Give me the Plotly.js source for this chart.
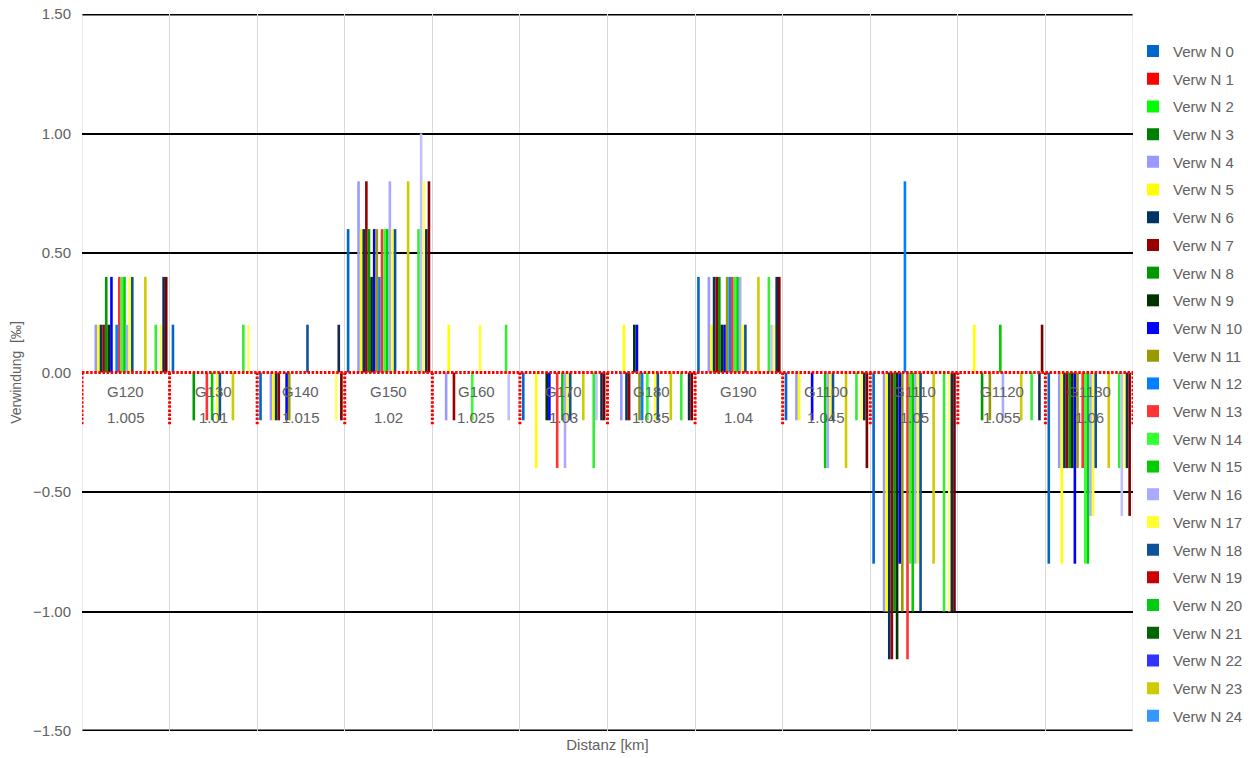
<!DOCTYPE html>
<html><head><meta charset="utf-8">
<script src="https://cdn.plot.ly/plotly-3.0.1.min.js"></script>
<style>html,body{margin:0;padding:0;background:#fff}</style>
</head><body>
<div id="chart" style="width:1260px;height:758px"></div>
<script>
// Categories
const groups = ['G120','G130','G140','G150','G160','G170','G180','G190','G1100','G1110','G1120','G1130'];
const distances = ['1.005','1.01','1.015','1.02','1.025','1.03','1.035','1.04','1.045','1.05','1.055','1.06'];

// Series values (Verwindung in ‰), one value per group
const verwN0  = [0, 0.2, -0.2, 0.6, 0, -0.2, 0, 0.4, -0.2, -0.8, 0, -0.8];
const verwN1  = [0, 0, 0, 0, 0, 0, 0, 0, 0, 0, 0, 0];
const verwN2  = [0, 0, 0, 0, 0, 0, 0, 0, 0, 0, 0, 0];
const verwN3  = [0, 0, 0, 0, 0, 0, 0, 0, 0, 0, 0, 0];
const verwN4  = [0.2, 0, -0.2, 0.8, -0.2, 0, -0.2, 0.4, -0.2, -1.0, 0, -0.4];
const verwN5  = [0.2, 0, -0.2, 0.6, 0.2, -0.4, 0.2, 0.2, -0.2, -1.0, 0.2, -0.8];
const verwN6  = [0.2, 0, -0.2, 0.6, 0, 0, -0.2, 0.4, 0, -1.2, 0, -0.4];
const verwN7  = [0.2, 0, -0.2, 0.8, -0.2, 0, -0.2, 0.4, 0, -1.2, 0, -0.4];
const verwN8  = [0.4, -0.2, 0, 0.6, 0, 0, 0, 0.4, 0, -1.0, -0.2, -0.4];
const verwN9  = [0.2, 0, 0, 0.4, 0, -0.2, 0.2, 0.2, 0, -1.2, 0, -0.4];
const verwN10 = [0.4, 0, -0.2, 0.6, 0, -0.2, 0.2, 0.2, -0.2, -0.8, 0, -0.8];
const verwN11 = [0, 0, -0.2, 0.6, 0, 0, -0.2, 0.4, 0, -1.0, -0.2, -0.4];
const verwN12 = [0.2, 0, 0, 0.4, 0, 0, -0.2, 0.4, 0, 0.8, 0, 0];
const verwN13 = [0.4, -0.2, 0, 0.6, 0, -0.4, 0, 0.4, 0, -1.2, 0, -0.4];
const verwN14 = [0.4, 0, 0, 0.6, -0.2, 0, -0.2, 0.4, 0, -0.8, 0, -0.8];
const verwN15 = [0.4, -0.2, 0, 0.6, 0, -0.2, 0, 0.4, -0.4, -1.0, 0.2, -0.8];
const verwN16 = [0.2, 0, 0, 0.8, 0, -0.4, 0, 0.4, -0.4, -0.8, -0.2, -0.6];
const verwN17 = [0.4, -0.2, 0, 0.6, 0.2, -0.2, -0.2, 0.2, -0.2, -0.8, 0, -0.6];
const verwN18 = [0.4, -0.2, 0.2, 0.6, 0, -0.2, -0.2, 0.2, -0.2, -1.0, 0, -0.4];
const verwN19 = [0, 0, 0, 0, 0, 0, 0, 0, 0, 0, 0, 0];
const verwN20 = [0, 0, 0, 0, 0, 0, 0, 0, 0, 0, 0, 0];
const verwN21 = [0, 0, 0, 0, 0, 0, 0, 0, 0, 0, 0, 0];
const verwN22 = [0, 0, 0, 0, 0, 0, 0, 0, 0, 0, 0, 0];
const verwN23 = [0.4, -0.2, 0, 0.8, 0, -0.2, -0.2, 0.4, -0.4, -0.8, -0.2, -0.4];
const verwN24 = [0, 0, 0, 0, 0, 0, 0, 0, 0, 0, 0, 0];
const verwN25 = [0, 0, 0, 0, 0, 0, 0, 0, 0, 0, 0, 0];
const verwN26 = [0, 0, 0, 0, 0, 0, 0, 0, 0, 0, 0, 0];
const verwN27 = [0.2, 0.2, 0, 0.6, 0.2, -0.4, -0.2, 0.4, -0.2, -1.0, -0.2, -0.4];
const verwN28 = [0, 0, 0, 1.0, -0.2, -0.2, 0, 0.2, 0, 0, 0, -0.6];
const verwN29 = [0.2, 0.2, -0.2, 0.8, 0, 0, 0, 0.2, -0.2, -1.0, 0, -0.4];
const verwN30 = [0.4, 0, 0.2, 0.6, 0, -0.2, -0.2, 0.4, -0.2, -1.0, -0.2, -0.4];
const verwN31 = [0.4, 0, -0.2, 0.8, 0, -0.2, -0.2, 0.4, -0.4, -1.0, 0.2, -0.6];

const seriesValues = [verwN0, verwN1, verwN2, verwN3, verwN4, verwN5, verwN6, verwN7,
  verwN8, verwN9, verwN10, verwN11, verwN12, verwN13, verwN14, verwN15,
  verwN16, verwN17, verwN18, verwN19, verwN20, verwN21, verwN22, verwN23,
  verwN24, verwN25, verwN26, verwN27, verwN28, verwN29, verwN30, verwN31];
const legendCount = 25; // legend shows Verw N 0 .. Verw N 24

// Axis range
const yMin = -1.5, yMax = 1.5;

// Styles
const seriesColors = ['#0066CC','#FF0000','#00FF00','#008000','#9999FF','#FFFF00','#003366','#990000',
  '#009900','#003300','#0000FF','#999900','#0080FF','#FF3333','#33FF33','#00CC00',
  '#AAAAFF','#FFFF33','#10529A','#CC0000','#00CC11','#006600','#3333FF','#CCCC00',
  '#3399FF','#FF5050','#66FF66','#33EE33','#C0C0FF','#FFFF66','#102A50','#7A0000'];

const textGray = '#616161';
const fontFam = 'Liberation Sans, Arial, sans-serif';

const traces = seriesValues.map((vals, i) => ({
  type: 'bar',
  x: groups,
  y: vals,
  name: 'Verw N ' + i,
  legendgroup: 'n' + i,
  showlegend: i < legendCount,
  marker: {color: seriesColors[i], line: {width: 0}},
  hoverinfo: 'name+y'
}));

const tickDepth = -0.222;
const shapes = [];
// edge gridlines (range ends) drawn explicitly
[yMin, yMax].forEach(v => shapes.push({
  type: 'line', xref: 'paper', yref: 'y', layer: 'below',
  x0: 0, x1: 1, y0: v, y1: v, line: {color: '#000000', width: 3}
}));
[-0.5, groups.length - 0.5].forEach(v => shapes.push({
  type: 'line', xref: 'x', yref: 'paper', layer: 'below',
  x0: v, x1: v, y0: 0, y1: 1, line: {color: '#d9d9d9', width: 1}
}));
// red dotted category axis at zero with dotted tick marks
shapes.push({
  type: 'line', xref: 'x', yref: 'y', layer: 'above',
  x0: -0.5, x1: groups.length - 0.5, y0: 0, y1: 0,
  line: {color: '#FF0000', width: 3, dash: '2.5px,1.6px'}
});
for (let b = 0; b <= groups.length; b++) {
  shapes.push({
    type: 'line', xref: 'x', yref: 'y', layer: 'above',
    x0: b - 0.5, x1: b - 0.5, y0: 0, y1: tickDepth,
    line: {color: '#FF0000', width: 3, dash: '2.5px,1.6px'}
  });
}

const annotations = [];
groups.forEach((g, i) => {
  annotations.push({xref: 'x', yref: 'y', x: g, y: 0, text: g, showarrow: false,
    yanchor: 'middle', xanchor: 'center', yshift: -19, font: {size: 15, color: textGray, family: fontFam}});
  annotations.push({xref: 'x', yref: 'y', x: g, y: 0, text: distances[i], showarrow: false,
    yanchor: 'middle', xanchor: 'center', yshift: -45, font: {size: 15, color: textGray, family: fontFam}});
});

const layout = {
  width: 1260, height: 758,
  margin: {l: 82, r: 127, t: 14, b: 27},
  paper_bgcolor: '#ffffff', plot_bgcolor: '#ffffff',
  barmode: 'group', bargap: 0.047, bargroupgap: 0,
  font: {family: fontFam, color: textGray},
  showlegend: true,
  xaxis: {
    type: 'category', categoryorder: 'array', categoryarray: groups,
    range: [-0.5, groups.length - 0.5], tickson: 'boundaries',
    showgrid: true, gridcolor: '#d9d9d9', gridwidth: 1,
    showticklabels: false, ticks: '', zeroline: false, showline: false,
    title: {text: 'Distanz [km]', font: {size: 15, color: textGray, family: fontFam}, standoff: 8}
  },
  yaxis: {
    range: [yMin, yMax], dtick: 0.5, tick0: 0, tickformat: '.2f',
    showgrid: true, gridcolor: '#000000', gridwidth: 2,
    zeroline: true, zerolinecolor: 'rgba(0,0,0,0)', zerolinewidth: 1,
    ticks: '', ticklabelstandoff: 10, showline: false,
    tickfont: {size: 15, color: textGray, family: fontFam},
    title: {text: 'Verwindung  [‰]', font: {size: 14, color: textGray, family: fontFam}, standoff: 8}
  },
  legend: {
    x: 1, xanchor: 'left', y: 0.971, yanchor: 'top',
    font: {size: 15, color: textGray, family: fontFam},
    tracegroupgap: 5.2, bgcolor: 'rgba(0,0,0,0)', borderwidth: 0
  },
  shapes: shapes,
  annotations: annotations
};

Plotly.newPlot('chart', traces, layout, {displayModeBar: false, responsive: false});
</script>
</body></html>
